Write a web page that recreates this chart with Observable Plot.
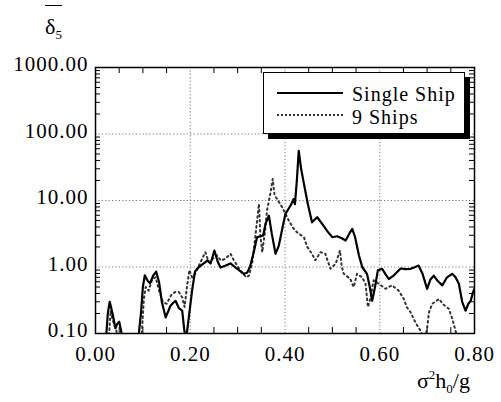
<!DOCTYPE html>
<html>
<head>
<meta charset="utf-8">
<script src="https://cdn.jsdelivr.net/npm/d3@7"></script>
<script src="https://cdn.jsdelivr.net/npm/@observablehq/plot@0.6"></script>
<style>
  html, body { margin: 0; padding: 0; background: #fff; }
  #wrap { position: relative; width: 501px; height: 402px; overflow: hidden; font-family: 'Liberation Serif', serif; color: #000; }
  .abs { position: absolute; white-space: nowrap; line-height: 1; font-family: 'Liberation Serif', serif; }
  svg text { font-family: 'Liberation Serif', serif; letter-spacing: 1px; }
</style>
</head>
<body>
<div id="wrap"></div>
<script>
// ---- data ----
const xSingle = [0.022,0.026,0.030,0.036,0.042,0.046,0.050,0.054,0.058,0.075,0.090,0.096,0.100,0.104,0.110,0.115,0.122,0.128,0.134,0.140,0.148,0.154,0.158,0.164,0.169,0.176,0.183,0.187,0.190,0.192,0.198,0.204,0.210,0.215,0.222,0.230,0.236,0.243,0.251,0.258,0.264,0.275,0.285,0.298,0.313,0.320,0.326,0.334,0.341,0.354,0.359,0.366,0.372,0.380,0.387,0.395,0.401,0.412,0.418,0.421,0.425,0.429,0.434,0.440,0.448,0.457,0.468,0.480,0.490,0.500,0.510,0.520,0.528,0.536,0.542,0.548,0.556,0.563,0.573,0.579,0.584,0.590,0.596,0.605,0.612,0.619,0.630,0.644,0.655,0.665,0.675,0.682,0.690,0.700,0.707,0.714,0.722,0.732,0.742,0.753,0.760,0.767,0.774,0.781,0.787,0.792,0.797,0.800];
const ySingle = [0.08,0.2,0.30,0.2,0.12,0.14,0.15,0.11,0.08,0.03,0.08,0.2,0.5,0.75,0.62,0.57,0.75,0.85,0.6,0.3,0.175,0.22,0.26,0.29,0.31,0.24,0.22,0.12,0.08,0.09,0.2,0.45,0.85,0.95,1.05,1.15,1.26,1.13,1.77,1.2,0.98,1.05,1.13,0.95,0.79,0.82,1.0,1.67,2.8,2.97,4.5,5.9,3.2,1.58,2.1,4.0,6.3,8.5,10.5,8.8,20,56,30,17.8,9,4.7,5.6,4.3,3.4,2.8,2.9,2.7,2.5,3.2,3.75,2.8,1.5,1.0,0.79,0.5,0.31,0.5,0.89,0.94,0.78,0.66,0.75,0.95,0.93,0.94,1.0,1.05,0.8,0.47,0.65,0.74,0.62,0.53,0.7,0.79,0.7,0.56,0.3,0.22,0.28,0.31,0.42,0.47];

const xNine = [0.028,0.032,0.035,0.040,0.044,0.048,0.070,0.097,0.102,0.106,0.112,0.120,0.127,0.134,0.142,0.150,0.160,0.168,0.176,0.183,0.188,0.193,0.198,0.204,0.212,0.222,0.232,0.239,0.246,0.256,0.265,0.274,0.285,0.292,0.305,0.318,0.324,0.331,0.338,0.345,0.348,0.352,0.358,0.362,0.369,0.374,0.378,0.383,0.394,0.408,0.418,0.426,0.440,0.447,0.457,0.464,0.475,0.485,0.496,0.507,0.516,0.520,0.524,0.538,0.545,0.552,0.563,0.570,0.575,0.580,0.587,0.598,0.612,0.626,0.640,0.651,0.657,0.665,0.675,0.686,0.695,0.700,0.704,0.711,0.725,0.735,0.746,0.753,0.760,0.765];
const yNine = [0.08,0.22,0.175,0.13,0.11,0.08,0.02,0.08,0.33,0.5,0.44,0.66,0.7,0.45,0.3,0.28,0.38,0.42,0.42,0.35,0.25,0.5,0.9,0.7,0.83,1.2,1.67,1.18,1.3,1.5,1.25,1.33,1.58,1.26,0.9,0.7,0.74,1.18,3.15,8.9,3.0,1.67,3.5,7.1,12.6,21,12,10.6,7.9,5.0,3.8,3.3,2.8,2.0,1.58,1.26,1.67,1.58,0.94,1.12,1.77,1.0,0.79,0.66,0.5,0.79,0.7,0.56,0.25,0.33,0.63,0.56,0.47,0.53,0.44,0.33,0.25,0.21,0.148,0.11,0.08,0.12,0.21,0.28,0.33,0.27,0.235,0.166,0.11,0.08];

const seriesNames = ["Single Ship", "9 Ships"];
const xTicks = [0, 0.2, 0.4, 0.6, 0.8];
const yTicks = [0.1, 1, 10, 100, 1000];
const xGrid = [0.2, 0.4, 0.6];
const yGrid = [1, 10, 100];
const xMinor = [0.05,0.1,0.15,0.25,0.3,0.35,0.45,0.5,0.55,0.65,0.7,0.75];
const yMinor = [0.1, 1, 10, 100].flatMap(d => [2,3,4,5,6,7,8,9].map(k => d * k));

const single = xSingle.map((x, i) => ({x, y: ySingle[i]}));
const nine = xNine.map((x, i) => ({x, y: yNine[i]}));

const W = 501, H = 402, mL = 95, mR = 27, mT = 67, mB = 69;
const fw = W - mL - mR, fh = H - mT - mB;

const chart = Plot.plot({
  width: W, height: H,
  marginLeft: mL, marginRight: mR, marginTop: mT, marginBottom: mB,
  style: {fontFamily: "Liberation Serif", fontSize: "21px", background: "transparent", color: "#000", overflow: "visible"},
  x: {domain: [0, 0.8]},
  y: {type: "log", domain: [0.1, 1000]},
  marks: [
    Plot.gridX(xGrid, {stroke: "#777", strokeOpacity: 1, strokeDasharray: "1.2,2.2", strokeWidth: 1}),
    Plot.gridY(yGrid, {stroke: "#777", strokeOpacity: 1, strokeDasharray: "1.2,2.2", strokeWidth: 1}),
    Plot.tickX(xMinor, {x: d => d, insetTop: fh - 6, stroke: "#000", strokeWidth: 1}),
    Plot.tickX(xMinor, {x: d => d, insetBottom: fh - 6, stroke: "#000", strokeWidth: 1}),
    Plot.tickY(yMinor, {y: d => d, insetRight: fw - 5, stroke: "#000", strokeWidth: 1}),
    Plot.tickY(yMinor, {y: d => d, insetLeft: fw - 5, stroke: "#000", strokeWidth: 1}),
    Plot.line(nine, {x: "x", y: "y", stroke: "#333", strokeWidth: 2, strokeDasharray: "1.6,3.4", clip: true}),
    Plot.line(single, {x: "x", y: "y", stroke: "#000", strokeWidth: 2.2, clip: true}),
    Plot.frame({stroke: "#000", strokeWidth: 1.5}),
    Plot.axisX(xTicks, {tickSize: 0, tickPadding: 13, tickFormat: d => d.toFixed(2), fontSize: 21, label: null}),
    Plot.axisY(yTicks, {tickSize: 0, tickPadding: 7, dy: -3, tickFormat: d => d.toFixed(2), fontSize: 21, label: null})
  ]
});

const wrap = document.getElementById("wrap");
chart.style.position = "absolute";
chart.style.left = "0px";
chart.style.top = "0px";
wrap.appendChild(chart);

// legend
const leg = document.createElement("div");
leg.style.cssText = "position:absolute;left:263px;top:72px;width:200px;height:60px;border:1.5px solid #000;background:#fff;box-shadow:5px 5px 0 #000;";
wrap.appendChild(leg);

function legendRow(y, textTop, dash, name) {
  const ln = document.createElement("div");
  ln.style.cssText = `position:absolute;left:277px;top:${y}px;width:66px;height:0;border-top:${dash ? "2px dotted #333" : "2px solid #000"};`;
  wrap.appendChild(ln);
  const t = document.createElement("div");
  t.className = "abs";
  t.style.cssText = `left:352px;top:${textTop}px;font-size:20px;line-height:20px;letter-spacing:1px;`;
  t.textContent = name;
  wrap.appendChild(t);
}
legendRow(92, 84, false, seriesNames[0]);
legendRow(114, 107, true, seriesNames[1]);

// axis titles
const xl = document.createElement("div");
xl.className = "abs";
xl.style.cssText = "left:417px;top:368px;font-size:22px;";
xl.innerHTML = 'σ<sup style="font-size:13px;vertical-align:9px">2</sup>h<sub style="font-size:13px;vertical-align:-5px">0</sub>/g';
wrap.appendChild(xl);

const yl = document.createElement("div");
yl.className = "abs";
yl.style.cssText = "left:45px;top:5px;font-size:22px;";
yl.innerHTML = '<span style="display:inline-block;border-top:1.5px solid #000;padding-top:10px;">δ<sub style="font-size:13px;vertical-align:-5px">5</sub></span>';
wrap.appendChild(yl);
</script>
</body>
</html>
